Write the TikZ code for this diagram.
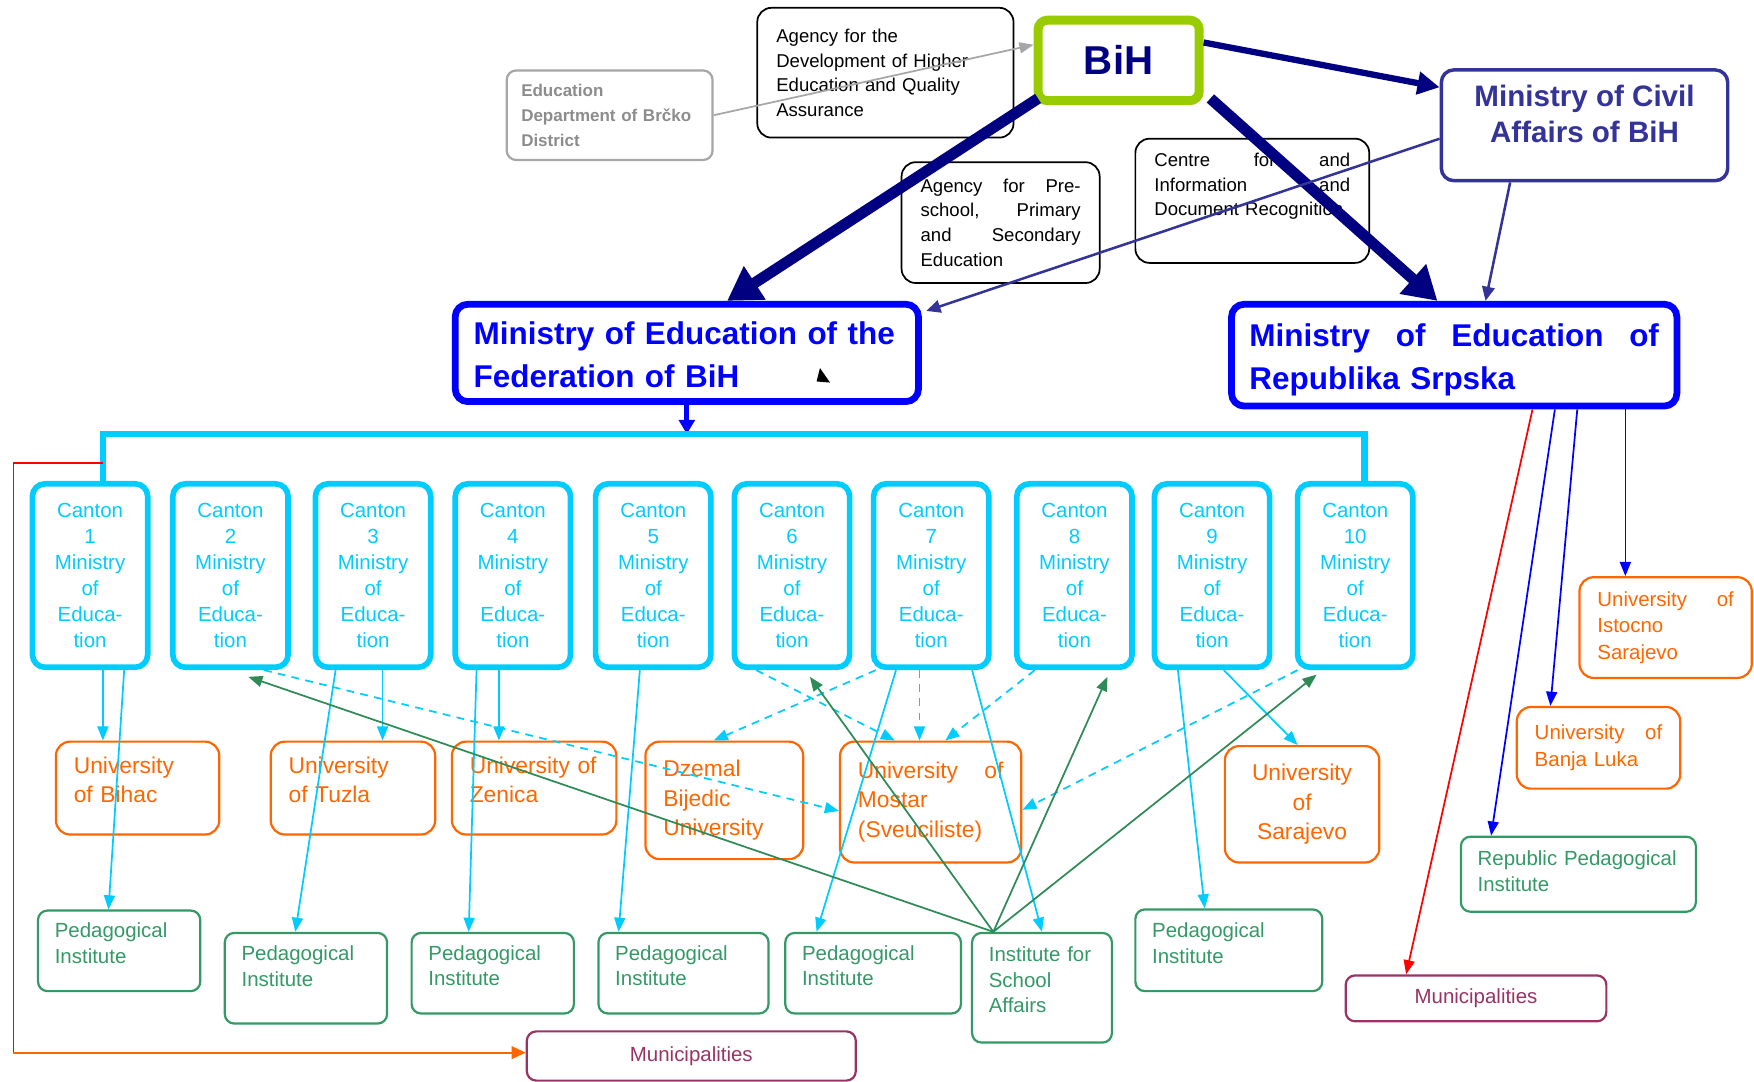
\documentclass[tikz,border=0pt]{standalone}
\usepackage{fontspec}
\setmainfont{Liberation Sans}
\usetikzlibrary{arrows.meta,calc}

\definecolor{cancyan}{RGB}{0,204,255}
\definecolor{uniorange}{RGB}{255,102,0}
\definecolor{pedgreen}{RGB}{51,153,102}
\definecolor{linkgreen}{RGB}{46,139,87}
\definecolor{munired}{RGB}{153,51,102}
\definecolor{bihgreen}{RGB}{153,204,0}
\definecolor{bihnavy}{RGB}{0,0,128}
\definecolor{civilblue}{RGB}{51,51,153}
\definecolor{fedblue}{RGB}{0,0,255}
\definecolor{brckogray}{RGB}{166,166,166}
\definecolor{brckotext}{RGB}{140,140,140}

\begin{document}
\begin{tikzpicture}[x=0.025cm,y=-0.025cm,
agency/.style={draw,line width=1.1pt,rounded corners=9pt,align=left,inner xsep=0.425cm,inner ysep=0pt,font=\fontsize{11.8}{15.6}\selectfont},
ministry/.style={draw=fedblue,line width=4.3pt,rounded corners=8pt,text=fedblue,align=left,inner ysep=0pt,text depth=25pt,font=\bfseries\fontsize{20}{27}\selectfont},
canton/.style={draw=cancyan,line width=3.6pt,rounded corners=8pt,text=cancyan,minimum width=2.575cm,minimum height=4.1cm,text width=2.4cm,align=center,inner sep=0pt,font=\fontsize{13}{16.6}\selectfont},
uni/.style={draw=uniorange,line width=1.4pt,rounded corners=9pt,text=uniorange,align=left,inner xsep=0.4cm,inner ysep=0pt,font=\fontsize{14.5}{18.7}\selectfont},
ped/.style={draw=pedgreen,line width=1.4pt,rounded corners=6pt,text=pedgreen,align=left,inner xsep=0.375cm,inner ysep=0pt,text depth=26pt,font=\fontsize{13}{16.4}\selectfont},
muni/.style={draw=munired,line width=1.4pt,rounded corners=6pt,text=munired,inner sep=0pt,font=\fontsize{13}{16}\selectfont},
link/.style={draw=cancyan,line width=1.1pt,-{Triangle[length=9pt,width=7pt]}},
dashlink/.style={link,dash pattern=on 5pt off 4pt},
schoollink/.style={draw=linkgreen,line width=1.1pt,-{Triangle[length=9pt,width=7pt]}},
rslink/.style={draw=fedblue,line width=1.1pt,-{Triangle[length=9pt,width=7pt]}},
boldlink/.style={draw=bihnavy,line width=7pt,-{Triangle[length=21pt,width=24pt]}}]
\useasboundingbox (0,0) rectangle (1568,967);
\node[draw=bihgreen,line width=5.7pt,rounded corners=6pt,minimum width=3.6cm,minimum height=1.8cm,inner sep=0pt,text=bihnavy,font=\bfseries\fontsize{25.6}{30}\selectfont] (bih) at (1000,54) {BiH};
\node[agency,minimum width=5.725cm,minimum height=2.9cm,text width=4.875cm] (agencyhe) at (791.5,65) {Agency for the\\ Development of Higher\\ Education and Quality\\ Assurance};
\node[draw=brckogray,line width=1.4pt,rounded corners=6pt,text=brckotext,align=left,inner xsep=0.325cm,inner ysep=0pt,minimum width=4.6cm,minimum height=2cm,text width=3.95cm,font=\bfseries\fontsize{10.8}{16}\selectfont] (brcko) at (545,103) {Education\\ Department of Brčko\\ District};
\node[draw=civilblue,line width=2.2pt,rounded corners=8pt,text=civilblue,align=center,minimum width=6.4cm,minimum height=2.475cm,inner sep=0pt,text depth=15pt,font=\bfseries\fontsize{18.8}{22.8}\selectfont] (civil) at (1416.5,112) {Ministry of Civil\\ Affairs of BiH};
\node[agency,minimum width=4.425cm,minimum height=2.7cm,text width=3.575cm] (agencypre) at (894.5,199) {Agency\hfill for\hfill Pre-\\ school,\hfill Primary\\ and\hfill Secondary\\ Education};
\node[agency,minimum width=5.225cm,minimum height=2.775cm,text width=4.375cm,text depth=52pt] (centre) at (1119.5,179.5) {Centre\hfill for\hfill and\\ Information\hfill and\\ Document Recognition};
\node[ministry,minimum width=10.35cm,minimum height=2.175cm,inner xsep=0.4125cm,text width=9.525cm] (fedmin) at (614,315.5) {Ministry of Education of the\\ Federation of BiH};
\node[ministry,minimum width=9.95cm,minimum height=2.275cm,inner xsep=0.4cm,text width=9.15cm] (rsmin) at (1300,317.5) {Ministry\hfill of\hfill Education\hfill of\\ Republika Srpska};
\node[canton] (can1) at (80.5,514.5) {Canton\\ 1\\ Ministry\\ of\\ Educa-\\ tion};
\node[canton] (can2) at (206,514.5) {Canton\\ 2\\ Ministry\\ of\\ Educa-\\ tion};
\node[canton] (can3) at (333.5,514.5) {Canton\\ 3\\ Ministry\\ of\\ Educa-\\ tion};
\node[canton] (can4) at (458.5,514.5) {Canton\\ 4\\ Ministry\\ of\\ Educa-\\ tion};
\node[canton] (can5) at (584,514.5) {Canton\\ 5\\ Ministry\\ of\\ Educa-\\ tion};
\node[canton] (can6) at (708,514.5) {Canton\\ 6\\ Ministry\\ of\\ Educa-\\ tion};
\node[canton] (can7) at (832.5,514.5) {Canton\\ 7\\ Ministry\\ of\\ Educa-\\ tion};
\node[canton] (can8) at (960.5,514.5) {Canton\\ 8\\ Ministry\\ of\\ Educa-\\ tion};
\node[canton] (can9) at (1083.5,514.5) {Canton\\ 9\\ Ministry\\ of\\ Educa-\\ tion};
\node[canton] (can10) at (1211.5,514.5) {Canton\\ 10\\ Ministry\\ of\\ Educa-\\ tion};
\node[uni,minimum width=3.65cm,minimum height=2.075cm,text width=2.85cm,text depth=29pt] (unibihac) at (123,704.5) {University\\ of Bihac};
\node[uni,minimum width=3.675cm,minimum height=2.075cm,text width=2.875cm,text depth=29pt] (unituzla) at (315.5,704.5) {University\\ of Tuzla};
\node[uni,minimum width=3.675cm,minimum height=2.075cm,text width=2.875cm,text depth=29pt] (unizenica) at (477.5,704.5) {University of\\ Zenica};
\node[uni,minimum width=3.525cm,minimum height=2.625cm,text width=2.725cm] (unidzemal) at (647.5,715.5) {Dzemal\\ Bijedic\\ University};
\node[uni,minimum width=4.05cm,minimum height=2.7cm,text width=3.25cm] (unimostar) at (832,717) {University\hfill of\\ Mostar\\ (Sveuciliste)};
\node[uni,align=center,minimum width=3.45cm,minimum height=2.6cm,text width=2.65cm] (unisarajevo) at (1164,719) {University\\ of\\ Sarajevo};
\node[uni,minimum width=3.85cm,minimum height=2.25cm,text width=3.05cm,font=\fontsize{13}{16.7}\selectfont] (uniistocno) at (1489,561) {University\hfill of\\ Istocno\\ Sarajevo};
\node[uni,minimum width=3.65cm,minimum height=1.825cm,text width=2.85cm,font=\fontsize{13}{16.7}\selectfont] (unibanjaluka) at (1429,668.5) {University\hfill of\\ Banja Luka};
\node[ped,minimum width=3.625cm,minimum height=1.8cm,text width=2.875cm] (ped1) at (106.5,850) {Pedagogical\\ Institute};
\node[ped,minimum width=3.625cm,minimum height=2.025cm,text width=2.875cm,text depth=32pt] (ped2) at (273.5,874.5) {Pedagogical\\ Institute};
\node[ped,minimum width=3.625cm,minimum height=1.8cm,text width=2.875cm] (ped3) at (440.5,870) {Pedagogical\\ Institute};
\node[ped,minimum width=3.8cm,minimum height=1.8cm,text width=3.05cm] (ped4) at (611,870) {Pedagogical\\ Institute};
\node[ped,minimum width=3.925cm,minimum height=1.8cm,text width=3.175cm] (ped5) at (780.5,870) {Pedagogical\\ Institute};
\node[ped,minimum width=3.125cm,minimum height=2.45cm,text width=2.375cm,text depth=43pt] (schoolaff) at (931.5,883) {Institute for\\ School\\ Affairs};
\node[ped,minimum width=4.175cm,minimum height=1.825cm,text width=3.425cm] (ped6) at (1098.5,849.5) {Pedagogical\\ Institute};
\node[ped,minimum width=5.25cm,minimum height=1.675cm,text width=4.5cm,text depth=20pt] (pedrep) at (1411,781.5) {Republic Pedagogical\\ Institute};
\node[muni,minimum width=7.35cm,minimum height=1.1cm] (munifed) at (618,944) {Municipalities};
\node[muni,minimum width=5.825cm,minimum height=1.025cm] (munirs) at (1319.5,892.5) {Municipalities};
\coordinate (bar) at (614,388);
\coordinate (redtap) at (92,414);
\coordinate (redcorner) at (12,941);
\coordinate (schooltop) at ($(schoolaff.north west)+(20,0)$);
\draw[draw=brckogray,line width=1.1pt,-{Triangle[length=9pt,width=7pt]}] (brcko.east) -- ($(bih.west)+(0,-14)$);
\draw[boldlink] ($(bih.south west)+(4,-6)$) -- ($(fedmin.north)+(36,0)$);
\draw[boldlink] ($(bih.south east)+(6,-6)$) -- ($(rsmin.north)+(-15,0)$);
\draw[draw=bihnavy,line width=4pt,-{Triangle[length=14pt,width=14pt]}] ($(bih.east)+(0,-16)$) -- ($(civil.west)+(0,-34)$);
\draw[draw=civilblue,line width=1.6pt,-{Triangle[length=9pt,width=8pt]}] ($(civil.west)+(0,12)$) -- ($(fedmin.north east)+(4,9)$);
\draw[draw=civilblue,line width=1.6pt,-{Triangle[length=9pt,width=8pt]}] ($(civil.south)+(-66.5,0)$) -- ($(rsmin.north)+(28,0)$);
\fill (733,329) -- (742,342) -- (730,341) -- cycle;
\draw[draw=fedblue,line width=3pt,-{Triangle[length=9pt,width=10pt]}] (fedmin.south) -- (bar);
\draw[draw=cancyan,line width=4.3pt] ($(can1.north)+(11.5,0)$) |- (bar) -| ($(can10.north)+(8.5,0)$);
\draw[draw=red,line width=1.1pt] (redtap) -| (redcorner);
\draw[draw=uniorange,line width=1.4pt,-{Triangle[length=9pt,width=8pt]}] (redcorner) -- (redcorner -| munifed.west);
\draw[link] ($(can1.south)+(11.5,0)$) -- ($(unibihac.north)+(-31,0)$);
\draw[link] ($(can1.south)+(30.5,0)$) -- ($(ped1.north)+(-9.5,0)$);
\draw[link] ($(can3.south)+(8.5,0)$) -- ($(unituzla.north)+(26.5,0)$);
\draw[link] ($(can3.south)+(-33.5,0)$) -- ($(ped2.north)+(-9.5,0)$);
\draw[link] ($(can4.south)+(-12.5,0)$) -- ($(unizenica.north)+(-31.5,0)$);
\draw[link] ($(can4.south)+(-32.5,0)$) -- ($(ped3.north)+(-21.5,0)$);
\draw[link] ($(can5.south)+(-12,0)$) -- ($(ped4.north)+(-58,0)$);
\draw[link] ($(can7.south)+(-31.5,0)$) -- ($(ped5.north)+(-50.5,0)$);
\draw[link] ($(can7.south)+(36.5,0)$) -- (schoolaff.north);
\draw[link] ($(can9.south)+(-30.5,0)$) -- ($(ped6.north)+(-21.5,0)$);
\draw[link] ($(can9.south)+(10.5,0)$) -- ($(unisarajevo.north)+(-4,0)$);
\draw[dashlink] ($(can7.south)+(-10.5,0)$) -- ($(unimostar.north)+(-10,0)$);
\draw[dashlink] ($(can8.south)+(-35.5,0)$) -- ($(unimostar.north)+(13,0)$);
\draw[dashlink] ($(can6.south)+(-32,0)$) -- ($(unimostar.north)+(-32,0)$);
\draw[dashlink] ($(can7.south)+(-49.5,0)$) -- ($(unidzemal.north)+(-9.5,0)$);
\draw[dashlink] ($(can2.south)+(30,0)$) -- ($(unimostar.west)+(0,8)$);
\draw[dashlink] ($(can10.south)+(-51.5,0)$) -- ($(unimostar.east)+(0,7)$);
\draw[schoollink] (schooltop) -- ($(can2.south)+(16,6)$);
\draw[schoollink] (schooltop) -- ($(can6.south)+(16,6)$);
\draw[schoollink] (schooltop) -- ($(can8.south)+(29.5,6)$);
\draw[schoollink] (schooltop) -- ($(can10.south)+(-34.5,4)$);
\draw[rslink] ($(rsmin.south)+(153,0)$) -- ($(uniistocno.north)+(-36,0)$);
\draw[rslink] ($(rsmin.south)+(110,0)$) -- ($(unibanjaluka.north)+(-43,0)$);
\draw[rslink] ($(rsmin.south)+(90,0)$) -- ($(pedrep.north)+(-78,0)$);
\draw[rslink,draw=red] ($(rsmin.south)+(70,0)$) -- ($(munirs.north)+(-62.5,0)$);
\end{tikzpicture}
\end{document}
